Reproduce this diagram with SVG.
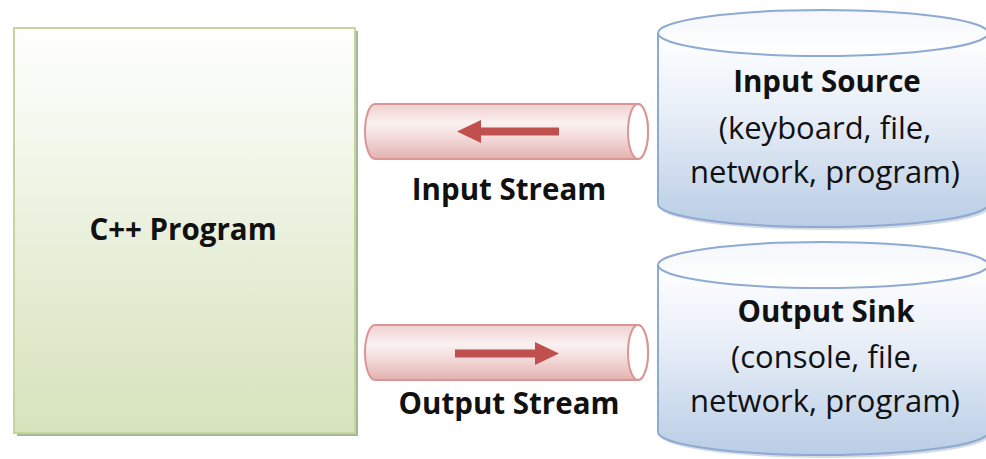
<svg xmlns="http://www.w3.org/2000/svg" width="986" height="459" viewBox="0 0 986 459">
<defs>
<linearGradient id="gGreen" x1="0" y1="0" x2="0" y2="1">
<stop offset="0" stop-color="#ffffff"/>
<stop offset="0.55" stop-color="#e8efd9"/>
<stop offset="1" stop-color="#d6e3bc"/>
</linearGradient>
<linearGradient id="gPipe" x1="0" y1="0" x2="0" y2="1">
<stop offset="0" stop-color="#efcfce"/>
<stop offset="0.35" stop-color="#fbf1f1"/>
<stop offset="0.6" stop-color="#f3dcdb"/>
<stop offset="1" stop-color="#e3b2b1"/>
</linearGradient>
<linearGradient id="gCyl" x1="0" y1="0" x2="0" y2="1">
<stop offset="0" stop-color="#ffffff"/>
<stop offset="0.4" stop-color="#e9eff8"/>
<stop offset="1" stop-color="#b9cde5"/>
</linearGradient>
<linearGradient id="gTop" x1="0" y1="0" x2="0" y2="1">
<stop offset="0" stop-color="#f4f7fc"/>
<stop offset="1" stop-color="#ffffff"/>
</linearGradient>
<style>
.bold{font-family:"Open Sans","Liberation Sans",sans-serif;font-weight:bold;font-size:29.5px;fill:#111;text-anchor:middle}
.reg{font-family:"Open Sans","Liberation Sans",sans-serif;font-size:31px;fill:#111;text-anchor:middle}
.pipe{fill:url(#gPipe);stroke:#d99694;stroke-width:2}
.pipeEnd{fill:#ffffff;stroke:#d99694;stroke-width:2}
.arrow{fill:#c0504d}
.cyl{fill:url(#gCyl);stroke:#8eaad2;stroke-width:2}
.cylTop{fill:url(#gTop);stroke:#8eaad2;stroke-width:2}
.shadow{fill:#c4cbd6;opacity:0.7}
</style>
</defs>
<rect width="986" height="459" fill="#ffffff"/>

<g id="program">
<rect x="17" y="31" width="341" height="405" fill="#a9b59b"/>
<rect x="14" y="28" width="341" height="405" fill="url(#gGreen)" stroke="#c3d69b" stroke-width="2"/>
<text class="bold" x="183" y="240">C++ Program</text>
</g>

<g id="connectors">
<g id="input-stream">
<path class="pipe" d="M375 104 L638 104 A10 27.5 0 0 1 638 159 L375 159 A10 27.5 0 0 1 375 104 Z"/>
<ellipse class="pipeEnd" cx="638" cy="131.5" rx="10" ry="27.5"/>
<polygon class="arrow" points="457,131.5 481,120 481,127.5 559,127.5 559,135.5 481,135.5 481,143"/>
<text class="bold" x="509" y="200">Input Stream</text>
</g>
<g id="output-stream">
<path class="pipe" d="M375 325 L638 325 A10 27.5 0 0 1 638 380 L375 380 A10 27.5 0 0 1 375 325 Z"/>
<ellipse class="pipeEnd" cx="638" cy="352.5" rx="10" ry="27.5"/>
<polygon class="arrow" points="559,353.5 535,342 535,349.5 455,349.5 455,357.5 535,357.5 535,365"/>
<text class="bold" x="509" y="414">Output Stream</text>
</g>
</g>

<g id="input-source">
<ellipse class="shadow" cx="825" cy="207" rx="165" ry="23"/>
<path class="cyl" d="M658 33 L658 204 A165 23 0 0 0 988 204 L988 33"/>
<ellipse class="cylTop" cx="823" cy="33" rx="165" ry="23"/>
<text class="bold" x="827" y="92">Input Source</text>
<text class="reg" x="825" y="139">(keyboard, file,</text>
<text class="reg" x="825" y="183">network, program)</text>
</g>

<g id="output-sink">
<ellipse class="shadow" cx="825" cy="435" rx="165" ry="23"/>
<path class="cyl" d="M658 265 L658 432 A165 23 0 0 0 988 432 L988 265"/>
<ellipse class="cylTop" cx="823" cy="265" rx="165" ry="23"/>
<text class="bold" x="826" y="322">Output Sink</text>
<text class="reg" x="825" y="368">(console, file,</text>
<text class="reg" x="825" y="412">network, program)</text>
</g>
</svg>
